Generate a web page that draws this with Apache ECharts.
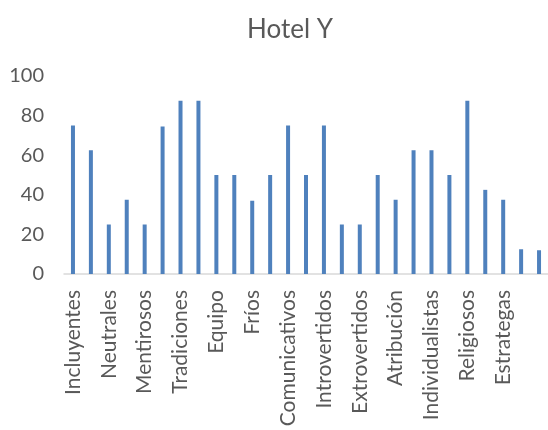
<!DOCTYPE html>
<html>
<head>
<meta charset="utf-8">
<script src="https://cdn.jsdelivr.net/npm/echarts@6/dist/echarts.min.js"></script>
<style>html,body{margin:0;padding:0;background:#fff}#c{width:548px;height:430px}</style>
</head>
<body>
<div id="c"></div>
<script>
const titleText = 'Hotel Y';
const categories = ['Incluyentes','','Neutrales','','Mentirosos','','Tradiciones','','Equipo','','Fríos','','Comunicativos','','Introvertidos','','Extrovertidos','','Atribución','','Individualistas','','Religiosos','','Estrategas','',''];
const values = [75,62.5,25,37.5,25,74.5,87.5,87.5,50,50,37,50,75,50,75,25,25,50,37.5,62.5,62.5,50,87.5,42.5,37.5,12.5,12];
const yTicks = {min:0, max:100, interval:20};

const chart = echarts.init(document.getElementById('c'), null, {renderer:'canvas'});
const font = 'Lato';
chart.setOption({
  animation:false,
  backgroundColor:'#ffffff',
  title:{text:titleText,left:285,top:12,textAlign:'center',textStyle:{fontFamily:font,fontSize:26,fontWeight:'normal',color:'#595959'}},
  grid:{left:64,right:0,top:76,bottom:156,containLabel:false},
  xAxis:{type:'category',data:categories,
    axisLine:{lineStyle:{color:'#d9d9d9',width:1.5}},
    axisTick:{show:false},
    axisLabel:{interval:0,rotate:90,margin:16,padding:[8,0,0,0],fontFamily:font,fontSize:21,color:'#595959'}},
  yAxis:{type:'value',min:yTicks.min,max:yTicks.max,interval:yTicks.interval,
    axisLine:{show:false},axisTick:{show:false},splitLine:{show:false},
    axisLabel:{margin:20,fontFamily:font,fontSize:20,color:'#595959'}},
  series:[{type:'bar',data:values,barWidth:4,itemStyle:{color:'#4F81BD'}}]
});
</script>
</body>
</html>
